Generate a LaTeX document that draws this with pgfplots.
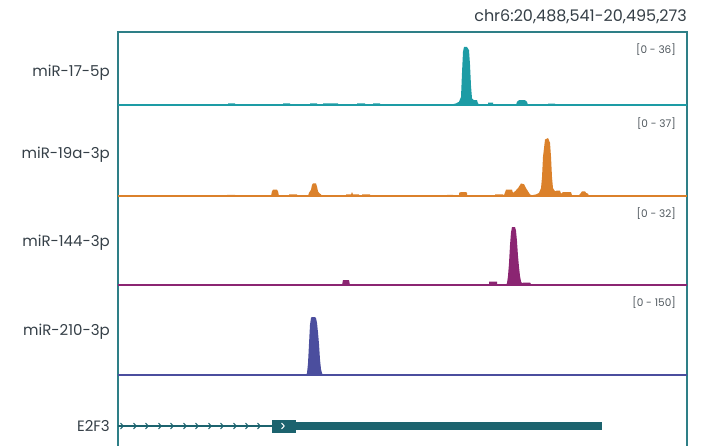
\documentclass[border=0pt]{standalone}
\usepackage{pgfplots}
\pgfplotsset{compat=1.18}
\usepackage{fontspec}
\setmainfont{Poppins}
\definecolor{cteal}{HTML}{1D9CA5}
\definecolor{corange}{HTML}{DB812B}
\definecolor{cpurple}{HTML}{8B2572}
\definecolor{cindigo}{HTML}{4B4E9E}
\definecolor{cgene}{HTML}{1C636E}
\definecolor{cframe}{HTML}{2E7F87}
\definecolor{ctext}{HTML}{353F47}
\definecolor{crange}{HTML}{50585E}
\pgfdeclareplotmark{chev}{%
  \pgfpathmoveto{\pgfqpoint{-1.5pt}{3pt}}%
  \pgfpathlineto{\pgfqpoint{1.2pt}{0pt}}%
  \pgfpathlineto{\pgfqpoint{-1.5pt}{-3pt}}%
  \pgfusepathqstroke}
\pgfplotsset{track/.style={scale only axis, width=569pt, xmin=118, xmax=687,
  ymin=0, axis lines=none, clip=false, anchor=south west}}
\begin{document}
\begin{tikzpicture}[x=1pt,y=1pt]
\useasboundingbox (0,0) rectangle (701,-446);
% frame
\draw[cframe, line width=1.3pt] (118,-446) -- (118,-32) -- (687,-32) -- (687,-446);
% title
\node[anchor=base east, text=ctext, font=\fontsize{16}{17}\selectfont, inner sep=0pt] at (687,-22) {chr6:20,488,541-20,495,273};
% track labels
\begin{scope}[every node/.style={anchor=east, text=ctext, font=\fontsize{15}{16}\selectfont, inner sep=0pt}]
\node at (110,-73) {miR-17-5p};
\node at (110,-155) {miR-19a-3p};
\node at (110,-243) {miR-144-3p};
\node at (110,-332) {miR-210-3p};
\node at (110,-426) {E2F3};
\end{scope}
\begin{scope}[every node/.style={anchor=east, text=crange, font=\fontsize{10.5}{11}\selectfont, inner sep=0pt}]
\node at (676,-50) {[0 - 36]};
\node at (676,-124) {[0 - 37]};
\node at (676,-214) {[0 - 32]};
\node at (676,-303) {[0 - 150]};
\end{scope}

% Track 1: miR-17-5p
\begin{axis}[track, at={(118pt,-105pt)}, height=58pt, ymax=36]
\addplot[fill=cteal, draw=none] coordinates {
(118,0)(228,0)(228,1)(235,1)(235,0)
(283,0)(283,1)(290,1)(290,0)
(310,0)(310,1)(317,1)(317,0)
(323,0)(323,1)(338,1)(338,0)
(357,0)(357,1)(365,1)(365,0)
(373,0)(373,1)(380,1)(380,0)
(450,0)(453,0.5)(456,1)(459,2)(461,5)(462,20)(463,33)(464,36)(467,36)(469,34)(470,25)(471,12)(472,4)(474,3)(477,3)(478,1)(480,0)
(488,0)(488,1.5)(493,1.5)(493,0)
(516,0)(517,2)(519,3)(525,3)(527,2)(528,0)
(548,0)(548,0.8)(555,0.8)(555,0)(687,0)} \closedcycle;
\addplot[cteal, line width=1.8pt] coordinates {(118,0)(687,0)};
\end{axis}

% Track 2: miR-19a-3p
\begin{axis}[track, at={(118pt,-196pt)}, height=58pt, ymax=37]
\addplot[fill=corange, draw=none] coordinates {
(118,0)(227,0)(227,0.7)(235,0.7)(235,0)
(271,0)(272,3)(273,4)(277,4)(278,3)(279,0)
(289,0)(289,1)(297,1)(297,0)
(308,0)(309,2)(311,4)(312,7)(313,8)(316,8)(317,6)(318,3)(319,2)(321,1)(322,0)
(346,0)(346,1)(351,1)(352,2.5)(353,1)(359,1)(359,0)
(362,0)(362,1)(370,1)(370,0)
(447,0)(447,0.7)(453,0.7)(453,0)
(459,0)(459,2)(461,2.5)(466,2.5)(467,2)(467,0)
(495,0)(495,1)(503,1)(504,0.5)(506,4)(512,4)(513,2)(515,3)(518,5)(521,8)(524,7.5)(526,5)(528,3)(530,1)(532,0.5)(536,1)(539,2)(541,5)(542,12)(543,25)(545,36)(548,37)(550,34)(551,25)(552,12)(553,5)(555,3)(557,3.5)(560,3.5)(561,1.5)(563,2.5)(571,2.5)(572,0.5)(579,0.5)(581,2)(582,3)(585,3)(586,2)(588,1.5)(589,0)
(687,0)} \closedcycle;
\addplot[corange, line width=1.8pt] coordinates {(118,0)(687,0)};
\end{axis}

% Track 3: miR-144-3p
\begin{axis}[track, at={(118pt,-285pt)}, height=58pt, ymax=32]
\addplot[fill=cpurple, draw=none] coordinates {
(118,0)(342,0)(343,2.7)(349,2.7)(350,0)
(489,0)(489,1.8)(497,1.8)(497,0)
(506,0)(507,1)(508,5)(509,12)(510,22)(511,29)(512,32)(515,32)(516,30)(517,24)(518,16)(519,10)(520,5)(521,2)(522,1)(523,1.3)(530,1.3)(531,0.5)(535,0.5)(536,0)
(687,0)} \closedcycle;
\addplot[cpurple, line width=1.8pt] coordinates {(118,0)(687,0)};
\end{axis}

% Track 4: miR-210-3p
\begin{axis}[track, at={(118pt,-375pt)}, height=58pt, ymax=150]
\addplot[fill=cindigo, draw=none] coordinates {
(118,0)(306,0)(307,5)(308,30)(309,80)(310,130)(311,148)(312,150)(315,150)(316,147)(317,135)(318,110)(319,80)(320,40)(321,15)(322,5)(323,0)
(687,0)} \closedcycle;
\addplot[cindigo, line width=1.8pt] coordinates {(118,0)(687,0)};
\end{axis}

% Gene track: E2F3
\begin{axis}[track, at={(118pt,-436pt)}, height=20pt, ymin=-10, ymax=10]
\addplot[cgene, line width=1.3pt] coordinates {(118,0)(272,0)};
\addplot[cgene, line width=1pt, only marks, mark=chev] coordinates {
(122,0)(135,0)(147,0)(160,0)(172,0)(185,0)(197,0)(210,0)(222,0)(235,0)(247,0)(259,0)};
\addplot[cgene, line width=13pt, line cap=butt] coordinates {(272,0)(296,0)};
\addplot[cgene, line width=8pt, line cap=butt] coordinates {(296,0)(602,0)};
\addplot[white, line width=1pt, only marks, mark=chev] coordinates {(283,0)};
\end{axis}
\end{tikzpicture}
\end{document}
